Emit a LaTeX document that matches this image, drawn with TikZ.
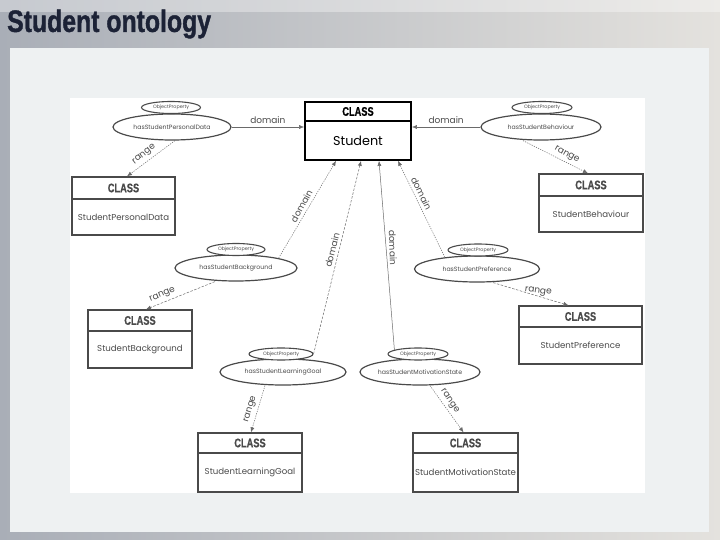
\documentclass[tikz,border=0pt]{standalone}
\usepackage{fontspec}
\setmainfont{Poppins}
\newfontfamily\titlefont[FakeStretch=0.8,FakeBold=1.2]{Liberation Sans}
\newfontfamily\hdrfont[FakeStretch=0.74,FakeBold=0.6]{Liberation Sans}
\usetikzlibrary{shapes.geometric,fit,arrows.meta}
\definecolor{ink}{HTML}{4A4A4A}
\definecolor{lineink}{HTML}{6A6A6A}
\definecolor{titleblue}{HTML}{1C2236}
\definecolor{slideL}{HTML}{A9AEB7}
\definecolor{slideR}{HTML}{E4E2DE}
\definecolor{panel}{HTML}{EEF1F2}
\tikzset{
  clsbox/.style={draw=ink, line width=1.3pt, inner sep=0pt},
  stubox/.style={draw=black, line width=1.8pt, inner sep=0pt},
  hdr/.style={font=\hdrfont\bfseries\fontsize{12.5}{13}\selectfont, text=ink, inner sep=0pt},
  body/.style={font=\fontsize{8.6}{9}\selectfont, text=ink, inner sep=0pt},
  prop/.style={ellipse, draw=ink, line width=1.2pt, inner sep=0pt, font=\fontsize{6.2}{7}\selectfont, text=ink},
  objp/.style={ellipse, draw=ink, line width=1.1pt, inner sep=0pt, font=\fontsize{4.8}{5}\selectfont, text=ink, fill=white},
  conn/.style={draw=lineink, line width=0.5pt, -{Latex[length=5pt,width=4pt]}},
  dotconn/.style={conn, dash pattern=on 1.2pt off 1.2pt},
  dashconn/.style={conn, dash pattern=on 2.5pt off 1.5pt},
  lbl/.style={font=\fontsize{9}{10}\selectfont, text=ink, inner sep=3pt, anchor=south},
}
\newcommand{\mkclass}[8]{%
  \node[#8, fit={(#2,#3)(#4,#5)}] (#1) {};
  \draw[line width=1.1pt, draw=ink] (#2,#6) -- (#4,#6);
  \node[hdr] at ({(#2+#4)/2},{(#3+#6)/2}) {CLASS};
  \node[body] at ({(#2+#4)/2},{(#6+#5)/2}) {#7};
}
\begin{document}
\begin{tikzpicture}[x=1pt,y=-1pt]
\useasboundingbox (0,0) rectangle (720,540);
% slide background
\shade[left color=slideL, right color=slideR] (0,0) rectangle (720,540);
\fill[white, opacity=0.35] (0,0) rectangle (720,12);
\fill[panel] (10,48) rectangle (709,532);
\fill[white] (70,98) rectangle (645,493);
\node[anchor=west, font=\titlefont\bfseries\fontsize{31}{32}\selectfont, text=titleblue, inner sep=0pt] (title) at (7,24) {Student ontology};

% class boxes
\node[stubox, fit={(305,102)(411,160)}] (stu) {};
\draw[line width=1.5pt] (305,121) -- (411,121);
\node[hdr, text=black] at (358,111.5) {CLASS};
\node[font=\fontsize{12.8}{13}\selectfont, text=black, inner sep=0pt] at (358,141) {Student};

\mkclass{cPD}{72}{177}{175}{235}{199}{StudentPersonalData}{clsbox}
\mkclass{cBeh}{539}{174}{643}{232}{196}{StudentBehaviour}{clsbox}
\mkclass{cBg}{88}{310}{192}{368}{331}{StudentBackground}{clsbox}
\mkclass{cPref}{519}{306}{642}{364}{327}{StudentPreference}{clsbox}
\mkclass{cLG}{198}{433}{302}{492}{453}{StudentLearningGoal}{clsbox}
\mkclass{cMS}{413}{433}{518}{492}{453}{StudentMotivationState}{clsbox}

% property ellipses
\node[prop, minimum width=118pt, minimum height=26pt] (pPD) at (172,127) {hasStudentPersonalData};
\node[objp, minimum width=59pt, minimum height=12pt] (oPD) at (171,107.5) {ObjectProperty};
\node[prop, minimum width=120pt, minimum height=26pt] (pBeh) at (541,127) {hasStudentBehaviour};
\node[objp, minimum width=60pt, minimum height=12pt] (oBeh) at (542,107.5) {ObjectProperty};
\node[prop, minimum width=122pt, minimum height=26pt] (pBg) at (236,268) {hasStudentBackground};
\node[objp, minimum width=58pt, minimum height=12pt] (oBg) at (236,249.5) {ObjectProperty};
\node[prop, minimum width=125pt, minimum height=26pt] (pPref) at (477,269) {hasStudentPreference};
\node[objp, minimum width=60pt, minimum height=12pt] (oPref) at (478,250) {ObjectProperty};
\node[prop, minimum width=126pt, minimum height=26pt] (pLG) at (283,372) {hasStudentLearningGoal};
\node[objp, minimum width=64pt, minimum height=12pt] (oLG) at (281,354) {ObjectProperty};
\node[prop, minimum width=120pt, minimum height=26pt] (pMS) at (420,372) {hasStudentMotivationState};
\node[objp, minimum width=60pt, minimum height=12pt] (oMS) at (418,354) {ObjectProperty};

% domain connectors
\draw[conn] (pPD.east) -- (pPD.east -| stu.west) node[lbl, pos=0.5] {domain};
\draw[conn] (pBeh.west) -- (pBeh.west -| stu.east) node[lbl, pos=0.5] {domain};
\draw[dotconn] (pBg.13) -- ([xshift=-22pt]stu.south) node[lbl, pos=0.5, rotate=61] {domain};
\draw[dotconn] (pPref.160) -- ([xshift=40pt]stu.south) node[lbl, pos=0.63, rotate=-64] {domain};
\draw[dashconn] (oLG.east) -- ([xshift=3pt]stu.south) node[lbl, pos=0.53, rotate=76] {domain};
\draw[conn] (oMS.170) -- ([xshift=21pt]stu.south) node[lbl, pos=0.54, rotate=-88] {domain};

% range connectors
\draw[dotconn] ([xshift=3pt]pPD.south) -- ([xshift=3.5pt]cPD.north) node[lbl, pos=0.55, rotate=38] {range};
\draw[dotconn] ([xshift=-18pt]pBeh.south) -- ([xshift=-3pt]cBeh.north) node[lbl, pos=0.62, rotate=-29] {range};
\draw[dashconn] ([xshift=-21pt]pBg.south) -- ([xshift=6pt]cBg.north) node[lbl, pos=0.72, rotate=23] {range};
\draw[dashconn] ([xshift=16pt]pPref.south) -- ([xshift=-12pt]cPref.north) node[lbl, pos=0.59, rotate=-8, inner sep=0.5pt] {range};
\draw[dotconn] ([xshift=-18pt]pLG.south) -- ([xshift=1pt]cLG.north) node[lbl, pos=0.55, rotate=73] {range};
\draw[dotconn] ([xshift=10pt]pMS.south) -- ([xshift=-2pt]cMS.north) node[lbl, pos=0.41, rotate=-56] {range};
\end{tikzpicture}
\end{document}
